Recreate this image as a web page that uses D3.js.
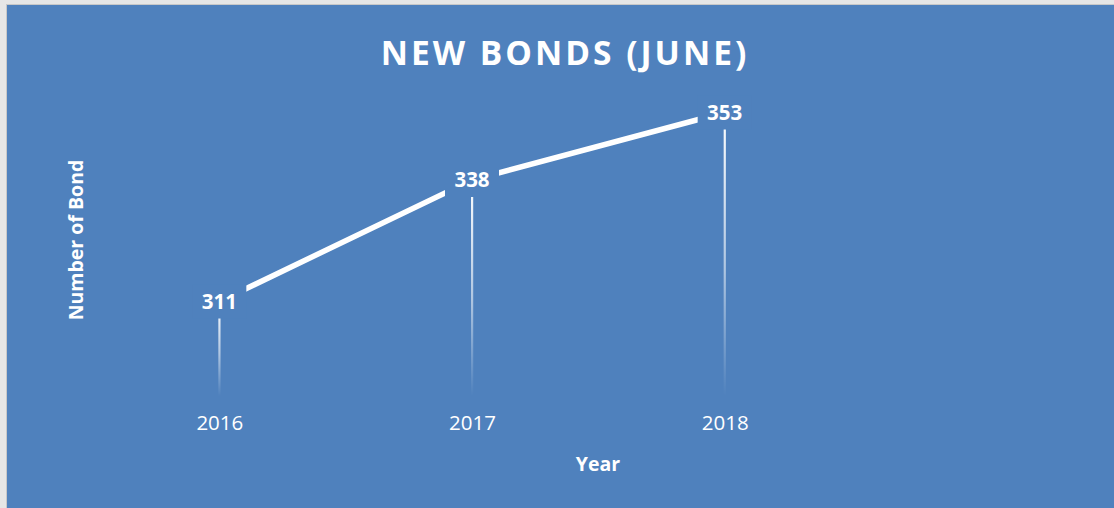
<!DOCTYPE html>
<html>
<head>
<meta charset="utf-8">
<script src="https://cdn.jsdelivr.net/npm/d3@7"></script>
<style>
  html, body { margin: 0; padding: 0; background: #ededed; }
  svg { display: block; }
</style>
</head>
<body>
<svg id="chart" width="1114" height="508"></svg>
<script>
// Data
const years = ["2016", "2017", "2018"];
const bonds = [311, 338, 353];
const yDomain = [290, 360];

const W = 1114, H = 508;
const bg = "#4f81bd";
const svg = d3.select("#chart");

// Frame: thin grey margin on the left and top, blue chart area
svg.append("rect").attr("x", 0).attr("y", 0).attr("width", W).attr("height", H).attr("fill", "#e6e6e6");
svg.append("rect").attr("x", 6).attr("y", 4).attr("width", W - 6).attr("height", H - 4).attr("fill", "#c8c8c8");
svg.append("rect").attr("x", 7).attr("y", 5).attr("width", W - 7).attr("height", H - 5).attr("fill", bg);

const plot = { left: 93, right: 851, top: 81, bottom: 396 };

const x = d3.scalePoint().domain(years).range([plot.left, plot.right]).padding(0.5);
const y = d3.scaleLinear().domain(yDomain).range([plot.bottom, plot.top]);

const data = years.map((yr, i) => ({ year: yr, value: bonds[i] }));

// Fading drop-line gradient
const defs = svg.append("defs");
const grad = defs.append("linearGradient")
  .attr("id", "drop").attr("x1", 0).attr("y1", 0).attr("x2", 0).attr("y2", 1);
grad.append("stop").attr("offset", "0%").attr("stop-color", "#fff").attr("stop-opacity", 1);
grad.append("stop").attr("offset", "55%").attr("stop-color", "#fff").attr("stop-opacity", 0.55);
grad.append("stop").attr("offset", "100%").attr("stop-color", "#fff").attr("stop-opacity", 0);

// Drop lines
svg.append("g").selectAll("rect")
  .data(data).join("rect")
  .attr("x", d => x(d.year) - 1)
  .attr("y", d => y(d.value))
  .attr("width", 2.2)
  .attr("height", d => plot.bottom - y(d.value))
  .attr("fill", "url(#drop)");

// Series line
svg.append("path")
  .datum(data)
  .attr("fill", "none")
  .attr("stroke", "#fff")
  .attr("stroke-width", 5.5)
  .attr("d", d3.line().x(d => x(d.year)).y(d => y(d.value)));

// Data labels with background patches
const lab = svg.append("g").selectAll("g").data(data).join("g")
  .attr("transform", d => `translate(${x(d.year)},${y(d.value)})`);
lab.append("rect")
  .attr("x", -27).attr("y", -17).attr("width", 54).attr("height", 34)
  .attr("fill", bg);
lab.append("text")
  .attr("text-anchor", "middle")
  .attr("dy", "0.36em")
  .attr("font-family", "Open Sans, sans-serif")
  .attr("font-weight", 700)
  .attr("font-size", 20.5)
  .attr("fill", "#fff")
  .text(d => d.value);

// Category axis labels
const xAxis = d3.axisBottom(x).tickSize(0).tickPadding(0);
const gx = svg.append("g").attr("transform", `translate(0,${plot.bottom})`).call(xAxis);
gx.select(".domain").remove();
gx.selectAll("text")
  .attr("y", 0).attr("dy", "1.65em")
  .attr("font-family", "Open Sans, sans-serif")
  .attr("font-size", 20.5)
  .attr("fill", "#fff");

// Title
svg.append("text")
  .attr("x", 565).attr("y", 65)
  .attr("text-anchor", "middle")
  .attr("font-family", "Open Sans, sans-serif")
  .attr("font-weight", 700)
  .attr("font-size", 33.5)
  .attr("letter-spacing", 3)
  .attr("fill", "#fff")
  .text("NEW BONDS (JUNE)");

// Axis titles
svg.append("text")
  .attr("x", 598).attr("y", 471)
  .attr("text-anchor", "middle")
  .attr("font-family", "Open Sans, sans-serif")
  .attr("font-weight", 700)
  .attr("font-size", 19.5)
  .attr("fill", "#fff")
  .text("Year");

svg.append("text")
  .attr("transform", "translate(83,240) rotate(-90)")
  .attr("text-anchor", "middle")
  .attr("font-family", "Open Sans, sans-serif")
  .attr("font-weight", 700)
  .attr("font-size", 19.5)
  .attr("fill", "#fff")
  .text("Number of Bond");
</script>
</body>
</html>
